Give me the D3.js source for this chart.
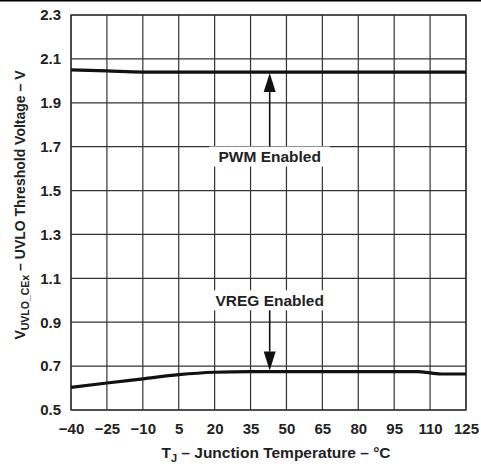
<!DOCTYPE html>
<html>
<head>
<meta charset="utf-8">
<script src="https://cdn.jsdelivr.net/npm/d3@7"></script>
<style>
  body { margin: 0; background: #fff; }
  text { font-family: "Liberation Sans", Arial, sans-serif; font-weight: bold; fill: #222; }
</style>
</head>
<body>
<div id="chart"></div>
<script>
const xTicks = [-40, -25, -10, 5, 20, 35, 50, 65, 80, 95, 110, 125];
const yTicks = [0.5, 0.7, 0.9, 1.1, 1.3, 1.5, 1.7, 1.9, 2.1, 2.3];

const pwmTemp = [-40, -25, -10, 5, 20, 35, 50, 65, 80, 95, 110, 125];
const pwmVolt = [2.05, 2.045, 2.04, 2.04, 2.04, 2.04, 2.04, 2.04, 2.04, 2.04, 2.04, 2.04];

const vregTemp = [-40, -25, -10, 5, 20, 35, 50, 65, 80, 95, 105, 110, 115, 125];
const vregVolt = [0.603, 0.623, 0.642, 0.661, 0.672, 0.675, 0.675, 0.675, 0.675, 0.675, 0.675, 0.669, 0.664, 0.664];

const arrowTemp = 43;
const notes = [
  { label: "PWM Enabled", to: 2.04, textV: 1.655 },
  { label: "VREG Enabled", to: 0.675, textV: 1.0 }
];

const width = 481, height = 466;
const margin = { top: 15, right: 15, bottom: 56, left: 71 };
const w = width - margin.left - margin.right;
const h = height - margin.top - margin.bottom;

const svg = d3.select("#chart").append("svg")
  .attr("width", width)
  .attr("height", height);

svg.append("rect")
  .attr("x", 0).attr("y", 0)
  .attr("width", width).attr("height", 1.5)
  .attr("fill", "#000");

const g = svg.append("g")
  .attr("transform", `translate(${margin.left},${margin.top})`);

const x = d3.scaleLinear().domain([-40, 125]).range([0, w]);
const y = d3.scaleLinear().domain([0.5, 2.3]).range([h, 0]);

// grid
g.append("g")
  .selectAll("line")
  .data(xTicks)
  .join("line")
  .attr("x1", d => x(d)).attr("x2", d => x(d))
  .attr("y1", 0).attr("y2", h)
  .attr("stroke", "#333").attr("stroke-width", 1.2);

g.append("g")
  .selectAll("line")
  .data(yTicks)
  .join("line")
  .attr("x1", 0).attr("x2", w)
  .attr("y1", d => y(d)).attr("y2", d => y(d))
  .attr("stroke", "#333").attr("stroke-width", 1.2);

g.append("rect")
  .attr("width", w).attr("height", h)
  .attr("fill", "none")
  .attr("stroke", "#333").attr("stroke-width", 1.4);

// axes labels
const xAxis = g.append("g")
  .attr("transform", `translate(0,${h})`)
  .call(d3.axisBottom(x).tickValues(xTicks).tickSize(0).tickPadding(13)
    .tickFormat(d => d < 0 ? "\u2212" + Math.abs(d) : d));
xAxis.select(".domain").remove();
xAxis.selectAll("text").attr("font-size", 15).attr("fill", "#222");

const yAxis = g.append("g")
  .call(d3.axisLeft(y).tickValues(yTicks).tickSize(0).tickPadding(10)
    .tickFormat(d3.format(".1f")));
yAxis.select(".domain").remove();
yAxis.selectAll("text").attr("font-size", 15).attr("fill", "#222");

// curves
const line = d3.line()
  .x(d => x(d[0]))
  .y(d => y(d[1]))
  .curve(d3.curveMonotoneX);

[[pwmTemp, pwmVolt], [vregTemp, vregVolt]].forEach(([t, v]) => {
  g.append("path")
    .datum(t.map((d, i) => [d, v[i]]))
    .attr("d", line)
    .attr("fill", "none")
    .attr("stroke", "#111")
    .attr("stroke-width", 3.2);
});

// annotations
notes.forEach(n => {
  const ax = x(arrowTemp);
  const ty = y(n.textV);
  const note = g.append("g");
  const bg = note.append("rect").attr("fill", "#fff");
  const txt = note.append("text")
    .attr("x", ax)
    .attr("y", ty + 5.5)
    .attr("text-anchor", "middle")
    .attr("font-size", 15.5)
    .text(n.label);
  const bb = txt.node().getBBox();
  bg.attr("x", bb.x - 9).attr("y", ty - 10)
    .attr("width", bb.width + 18).attr("height", 20);

  const up = y(n.to) < ty;
  const y0 = up ? ty - 10 : ty + 10;
  const yTip = y(n.to) + (up ? 1 : -1);
  const headLen = 19;
  const yBase = up ? yTip + headLen : yTip - headLen;
  note.append("line")
    .attr("x1", ax).attr("x2", ax)
    .attr("y1", y0).attr("y2", yBase)
    .attr("stroke", "#111").attr("stroke-width", 1.6);
  note.append("path")
    .attr("d", `M${ax},${yTip}L${ax - 6},${yBase}L${ax + 6},${yBase}Z`)
    .attr("fill", "#111");
});

// axis titles
const xt = svg.append("text")
  .attr("x", 276)
  .attr("y", 458)
  .attr("text-anchor", "middle")
  .attr("font-size", 15.5);
xt.append("tspan").text("T");
xt.append("tspan").attr("font-size", 11).attr("dy", 4).text("J");
xt.append("tspan").attr("dy", -4).text(" \u2013 Junction Temperature \u2013 \u00b0C");

const yt = svg.append("text")
  .attr("transform", `translate(25,${205}) rotate(-90)`)
  .attr("text-anchor", "middle")
  .attr("font-size", 14);
yt.append("tspan").text("V");
yt.append("tspan").attr("font-size", 10.5).attr("dy", 4).text("UVLO_CEx");
yt.append("tspan").attr("dy", -4).text(" \u2013 UVLO Threshold Voltage \u2013 V");
</script>
</body>
</html>
